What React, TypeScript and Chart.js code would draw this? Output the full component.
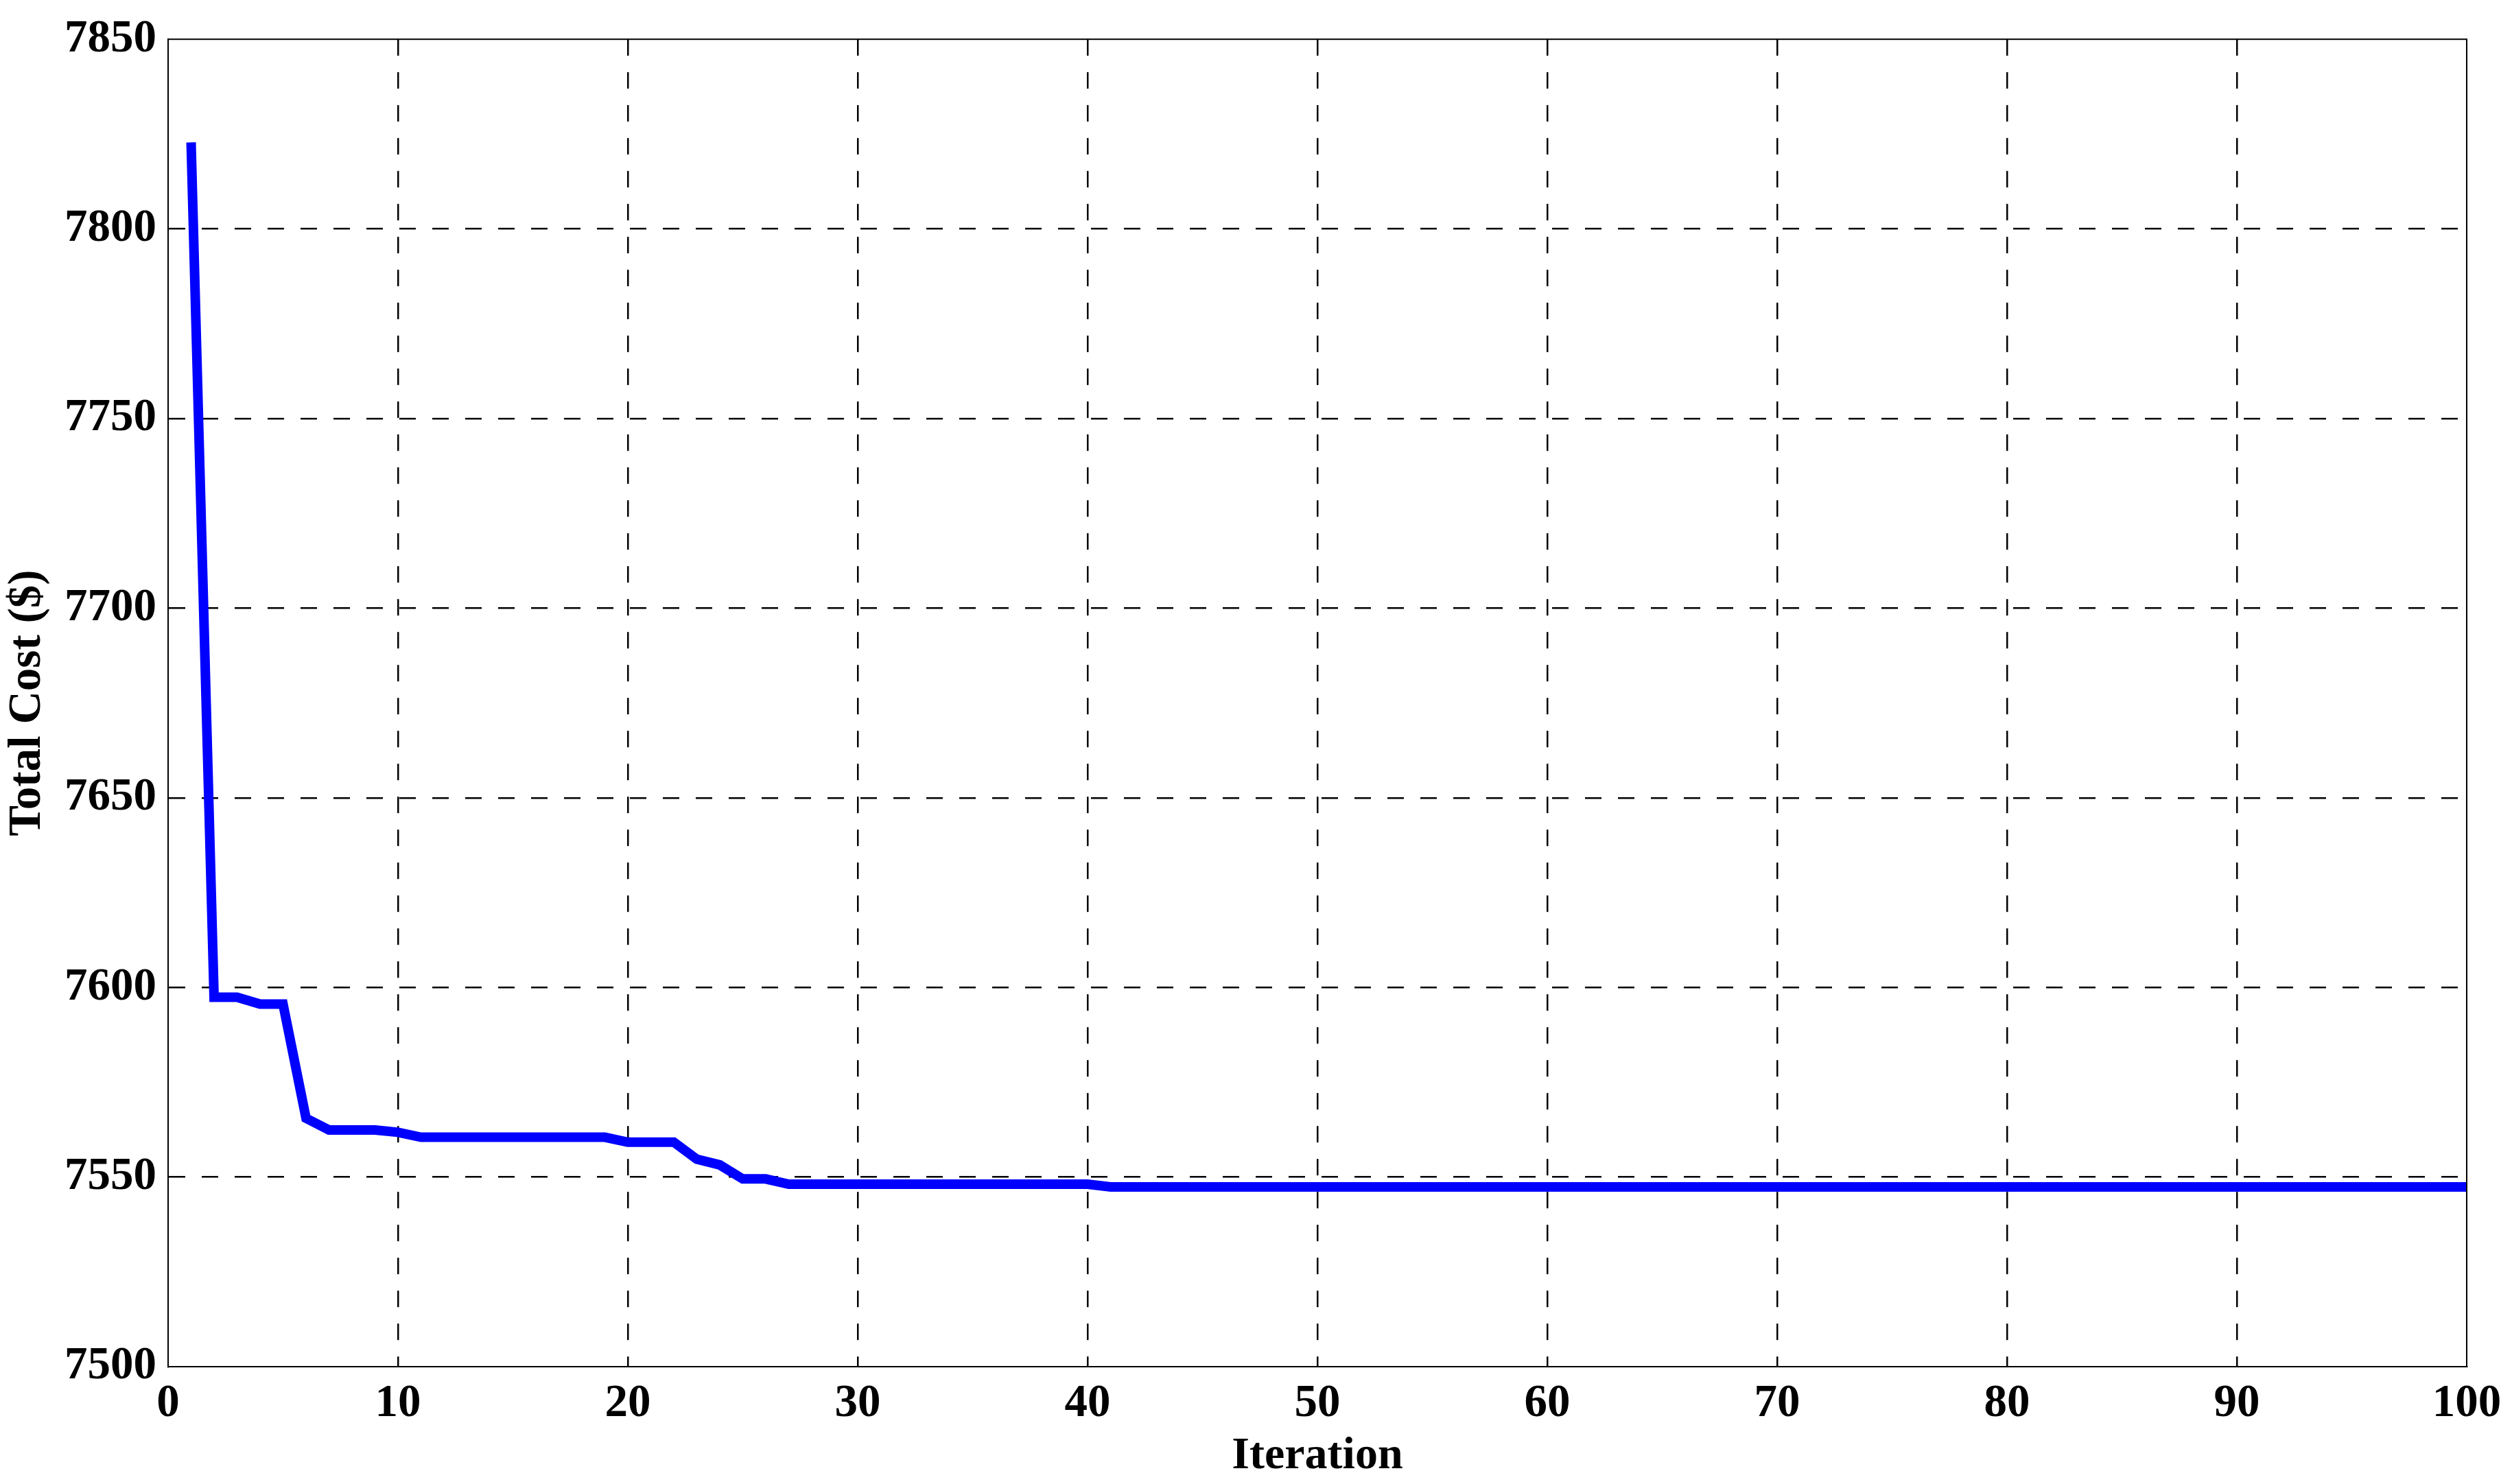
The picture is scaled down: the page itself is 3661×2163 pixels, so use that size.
import React, { useEffect, useRef } from "react";
import { Chart, registerables } from "chart.js";

Chart.register(...registerables);

const iterations = [
  1, 2, 3, 4, 5, 6, 7, 8, 9, 10,
  11, 12, 13, 14, 15, 16, 17, 18, 19, 20,
  21, 22, 23, 24, 25, 26, 27, 28, 29, 30,
  31, 32, 33, 34, 35, 36, 37, 38, 39, 40,
  41, 42, 43, 44, 45, 46, 47, 48, 49, 50,
  51, 52, 53, 54, 55, 56, 57, 58, 59, 60,
  61, 62, 63, 64, 65, 66, 67, 68, 69, 70,
  71, 72, 73, 74, 75, 76, 77, 78, 79, 80,
  81, 82, 83, 84, 85, 86, 87, 88, 89, 90,
  91, 92, 93, 94, 95, 96, 97, 98, 99, 100,
];

const totalCost = [
  7822.8, 7597.4, 7597.4, 7595.6, 7595.6, 7565.5, 7562.4, 7562.4, 7562.4, 7561.8,
  7560.5, 7560.5, 7560.5, 7560.5, 7560.5, 7560.5, 7560.5, 7560.5, 7560.5, 7559.2,
  7559.2, 7559.2, 7554.7, 7553.2, 7549.5, 7549.5, 7548.1, 7548.1, 7548.1, 7548.1,
  7548.1, 7548.1, 7548.1, 7548.1, 7548.1, 7548.1, 7548.1, 7548.1, 7548.1, 7548.1,
  7547.4, 7547.4, 7547.4, 7547.4, 7547.4, 7547.4, 7547.4, 7547.4, 7547.4, 7547.4,
  7547.4, 7547.4, 7547.4, 7547.4, 7547.4, 7547.4, 7547.4, 7547.4, 7547.4, 7547.4,
  7547.4, 7547.4, 7547.4, 7547.4, 7547.4, 7547.4, 7547.4, 7547.4, 7547.4, 7547.4,
  7547.4, 7547.4, 7547.4, 7547.4, 7547.4, 7547.4, 7547.4, 7547.4, 7547.4, 7547.4,
  7547.4, 7547.4, 7547.4, 7547.4, 7547.4, 7547.4, 7547.4, 7547.4, 7547.4, 7547.4,
  7547.4, 7547.4, 7547.4, 7547.4, 7547.4, 7547.4, 7547.4, 7547.4, 7547.4, 7547.4,
];

const xTitle = "Iteration";
const yTitle = "Total Cost ($)";

const W = 3661;
const H = 2163;
const FONT = "'Liberation Serif', 'Times New Roman', serif";

const framePlugin = {
  id: "frame",
  afterDraw(chart: any) {
    const { ctx, chartArea } = chart;
    ctx.save();
    ctx.strokeStyle = "#000";
    ctx.lineWidth = 2;
    ctx.setLineDash([]);
    ctx.strokeRect(chartArea.left, chartArea.top, chartArea.right - chartArea.left, chartArea.bottom - chartArea.top);
    ctx.restore();
  },
};

export default function App() {
  const ref = useRef<HTMLCanvasElement | null>(null);

  useEffect(() => {
    if (!ref.current) return;
    const data = iterations.map((it, i) => ({ x: it, y: totalCost[i] }));
    const chart = new Chart(ref.current, {
      type: "line",
      data: {
        datasets: [
          {
            data,
            borderColor: "#0000FF",
            borderWidth: 14,
            pointRadius: 0,
            tension: 0,
            fill: false,
          },
        ],
      },
      options: {
        animation: false,
        responsive: false,
        devicePixelRatio: 1,
        layout: { padding: { top: 48, right: 66, left: 0, bottom: 0 } },
        plugins: { legend: { display: false }, tooltip: { enabled: false } },
        scales: {
          x: {
            type: "linear",
            min: 0,
            max: 100,
            afterFit: (s: any) => {
              s.height = 171;
            },
            ticks: {
              stepSize: 10,
              color: "#000",
              padding: 14,
              font: { family: FONT, weight: "bold", size: 67 },
              maxRotation: 0,
              callback: (v: any) => String(v),
            },
            grid: {
              color: (c: any) => (c.tick && (c.tick.value === 0 || c.tick.value === 100) ? "rgba(0,0,0,0)" : "#000"),
              lineWidth: 2.5,
              drawTicks: false,
            },
            border: { display: true, color: "#000", width: 2, dash: [24, 24] },
            title: {
              display: true,
              text: xTitle,
              color: "#000",
              font: { family: FONT, weight: "bold", size: 66 },
              padding: { top: 0, bottom: 0 },
            },
          },
          y: {
            type: "linear",
            min: 7500,
            max: 7850,
            afterFit: (s: any) => {
              s.width = 245;
            },
            ticks: {
              stepSize: 50,
              color: "#000",
              padding: 17,
              font: { family: FONT, weight: "bold", size: 67 },
              callback: (v: any) => String(v),
            },
            grid: {
              color: (c: any) => (c.tick && (c.tick.value === 7500 || c.tick.value === 7850) ? "rgba(0,0,0,0)" : "#000"),
              lineWidth: 2.5,
              drawTicks: false,
            },
            border: { display: true, color: "#000", width: 2, dash: [24, 24] },
            title: {
              display: true,
              text: yTitle,
              color: "#000",
              font: { family: FONT, weight: "bold", size: 67 },
              padding: { top: 0, bottom: 0 },
            },
          },
        },
      },
      plugins: [framePlugin],
    });
    return () => chart.destroy();
  }, []);

  return (
    <div style={{ position: "fixed", left: 0, top: 0, width: W, height: H, background: "#fff" }}>
      <canvas ref={ref} width={W} height={H} style={{ width: W, height: H, display: "block" }} />
    </div>
  );
}
